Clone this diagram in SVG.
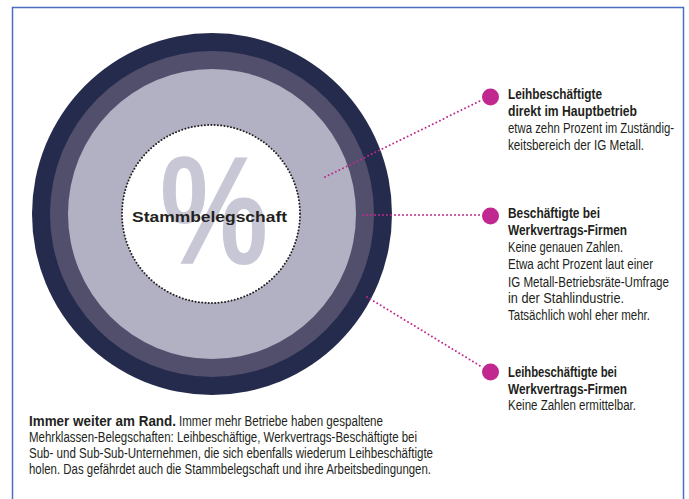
<svg xmlns="http://www.w3.org/2000/svg" width="689" height="499" viewBox="0 0 689 499">
<defs>
<style>
.t{font-family:"Liberation Sans","Noto Sans",sans-serif;fill:#231f20;font-size:14px}
.b{font-weight:bold}
.con{stroke:#c1288f;stroke-width:2;stroke-dasharray:0 4;stroke-linecap:round;fill:none}
.dot{fill:#c1288f}
</style>
</defs>
<rect width="689" height="499" fill="#ffffff"/>
<rect x="12.5" y="7.5" width="671" height="520" fill="none" stroke="#4a6fc0" stroke-width="1.5"/>
<g id="rings">
<ellipse cx="212" cy="214" rx="180" ry="181" fill="#252b4c"/>
<ellipse cx="212" cy="214" rx="162" ry="163" fill="#524f6c"/>
<ellipse cx="212" cy="214" rx="144" ry="145" fill="#b2b0c3"/>
</g>
<g id="core">
<circle cx="211" cy="214" r="89" fill="#ffffff" stroke="#231f20" stroke-width="2" stroke-dasharray="0 3.3" stroke-linecap="round"/>
<text x="160" y="264" font-family="Liberation Sans, sans-serif" font-weight="bold" font-size="154" fill="#c8c7d6" textLength="108" lengthAdjust="spacingAndGlyphs">%</text>
<text class="t b" x="132" y="222" font-size="25" textLength="155" lengthAdjust="spacingAndGlyphs">Stammbelegschaft</text>
</g>
<g id="connectors">
<line class="con" x1="325" y1="177" x2="482" y2="100"/>
<line class="con" x1="363" y1="215" x2="482" y2="215"/>
<line class="con" x1="367" y1="297" x2="482" y2="367"/>
</g>
<g id="node1">
<circle class="dot" cx="490.5" cy="97" r="8.5"/>
<text class="t b" x="508" y="99" textLength="94" lengthAdjust="spacingAndGlyphs">Leihbeschäftigte</text>
<text class="t b" x="508" y="116" textLength="129" lengthAdjust="spacingAndGlyphs">direkt im Hauptbetrieb</text>
<text class="t" x="508" y="133" textLength="166" lengthAdjust="spacingAndGlyphs">etwa zehn Prozent im Zuständig-</text>
<text class="t" x="508" y="149.5" textLength="136" lengthAdjust="spacingAndGlyphs">keitsbereich der IG Metall.</text>
</g>
<g id="node2">
<circle class="dot" cx="490.5" cy="216" r="8.5"/>
<text class="t b" x="508" y="218" textLength="92" lengthAdjust="spacingAndGlyphs">Beschäftigte bei</text>
<text class="t b" x="508" y="235" textLength="119" lengthAdjust="spacingAndGlyphs">Werkvertrags-Firmen</text>
<text class="t" x="508" y="252" textLength="115" lengthAdjust="spacingAndGlyphs">Keine genauen Zahlen.</text>
<text class="t" x="508" y="269" textLength="145" lengthAdjust="spacingAndGlyphs">Etwa acht Prozent laut einer</text>
<text class="t" x="508" y="286.5" textLength="161" lengthAdjust="spacingAndGlyphs">IG Metall-Betriebsräte-Umfrage</text>
<text class="t" x="508" y="303" textLength="116" lengthAdjust="spacingAndGlyphs">in der Stahlindustrie.</text>
<text class="t" x="508" y="320" textLength="142" lengthAdjust="spacingAndGlyphs">Tatsächlich wohl eher mehr.</text>
</g>
<g id="node3">
<circle class="dot" cx="490.5" cy="372" r="8.5"/>
<text class="t b" x="508" y="377" textLength="109" lengthAdjust="spacingAndGlyphs">Leihbeschäftigte bei</text>
<text class="t b" x="508" y="393.5" textLength="119" lengthAdjust="spacingAndGlyphs">Werkvertrags-Firmen</text>
<text class="t" x="508" y="410" textLength="128" lengthAdjust="spacingAndGlyphs">Keine Zahlen ermittelbar.</text>
</g>
<g id="caption">
<text class="t b" x="29" y="426" font-size="16.5" textLength="147" lengthAdjust="spacingAndGlyphs">Immer weiter am Rand.</text>
<text class="t" x="179" y="426" textLength="204" lengthAdjust="spacingAndGlyphs">Immer mehr Betriebe haben gespaltene</text>
<text class="t" x="29" y="442" textLength="388" lengthAdjust="spacingAndGlyphs">Mehrklassen-Belegschaften: Leihbeschäftige, Werkvertrags-Beschäftigte bei</text>
<text class="t" x="29" y="458" textLength="404" lengthAdjust="spacingAndGlyphs">Sub- und Sub-Sub-Unternehmen, die sich ebenfalls wiederum Leihbeschäftigte</text>
<text class="t" x="29" y="474" textLength="402" lengthAdjust="spacingAndGlyphs">holen. Das gefährdet auch die Stammbelegschaft und ihre Arbeitsbedingungen.</text>
</g>
</svg>
